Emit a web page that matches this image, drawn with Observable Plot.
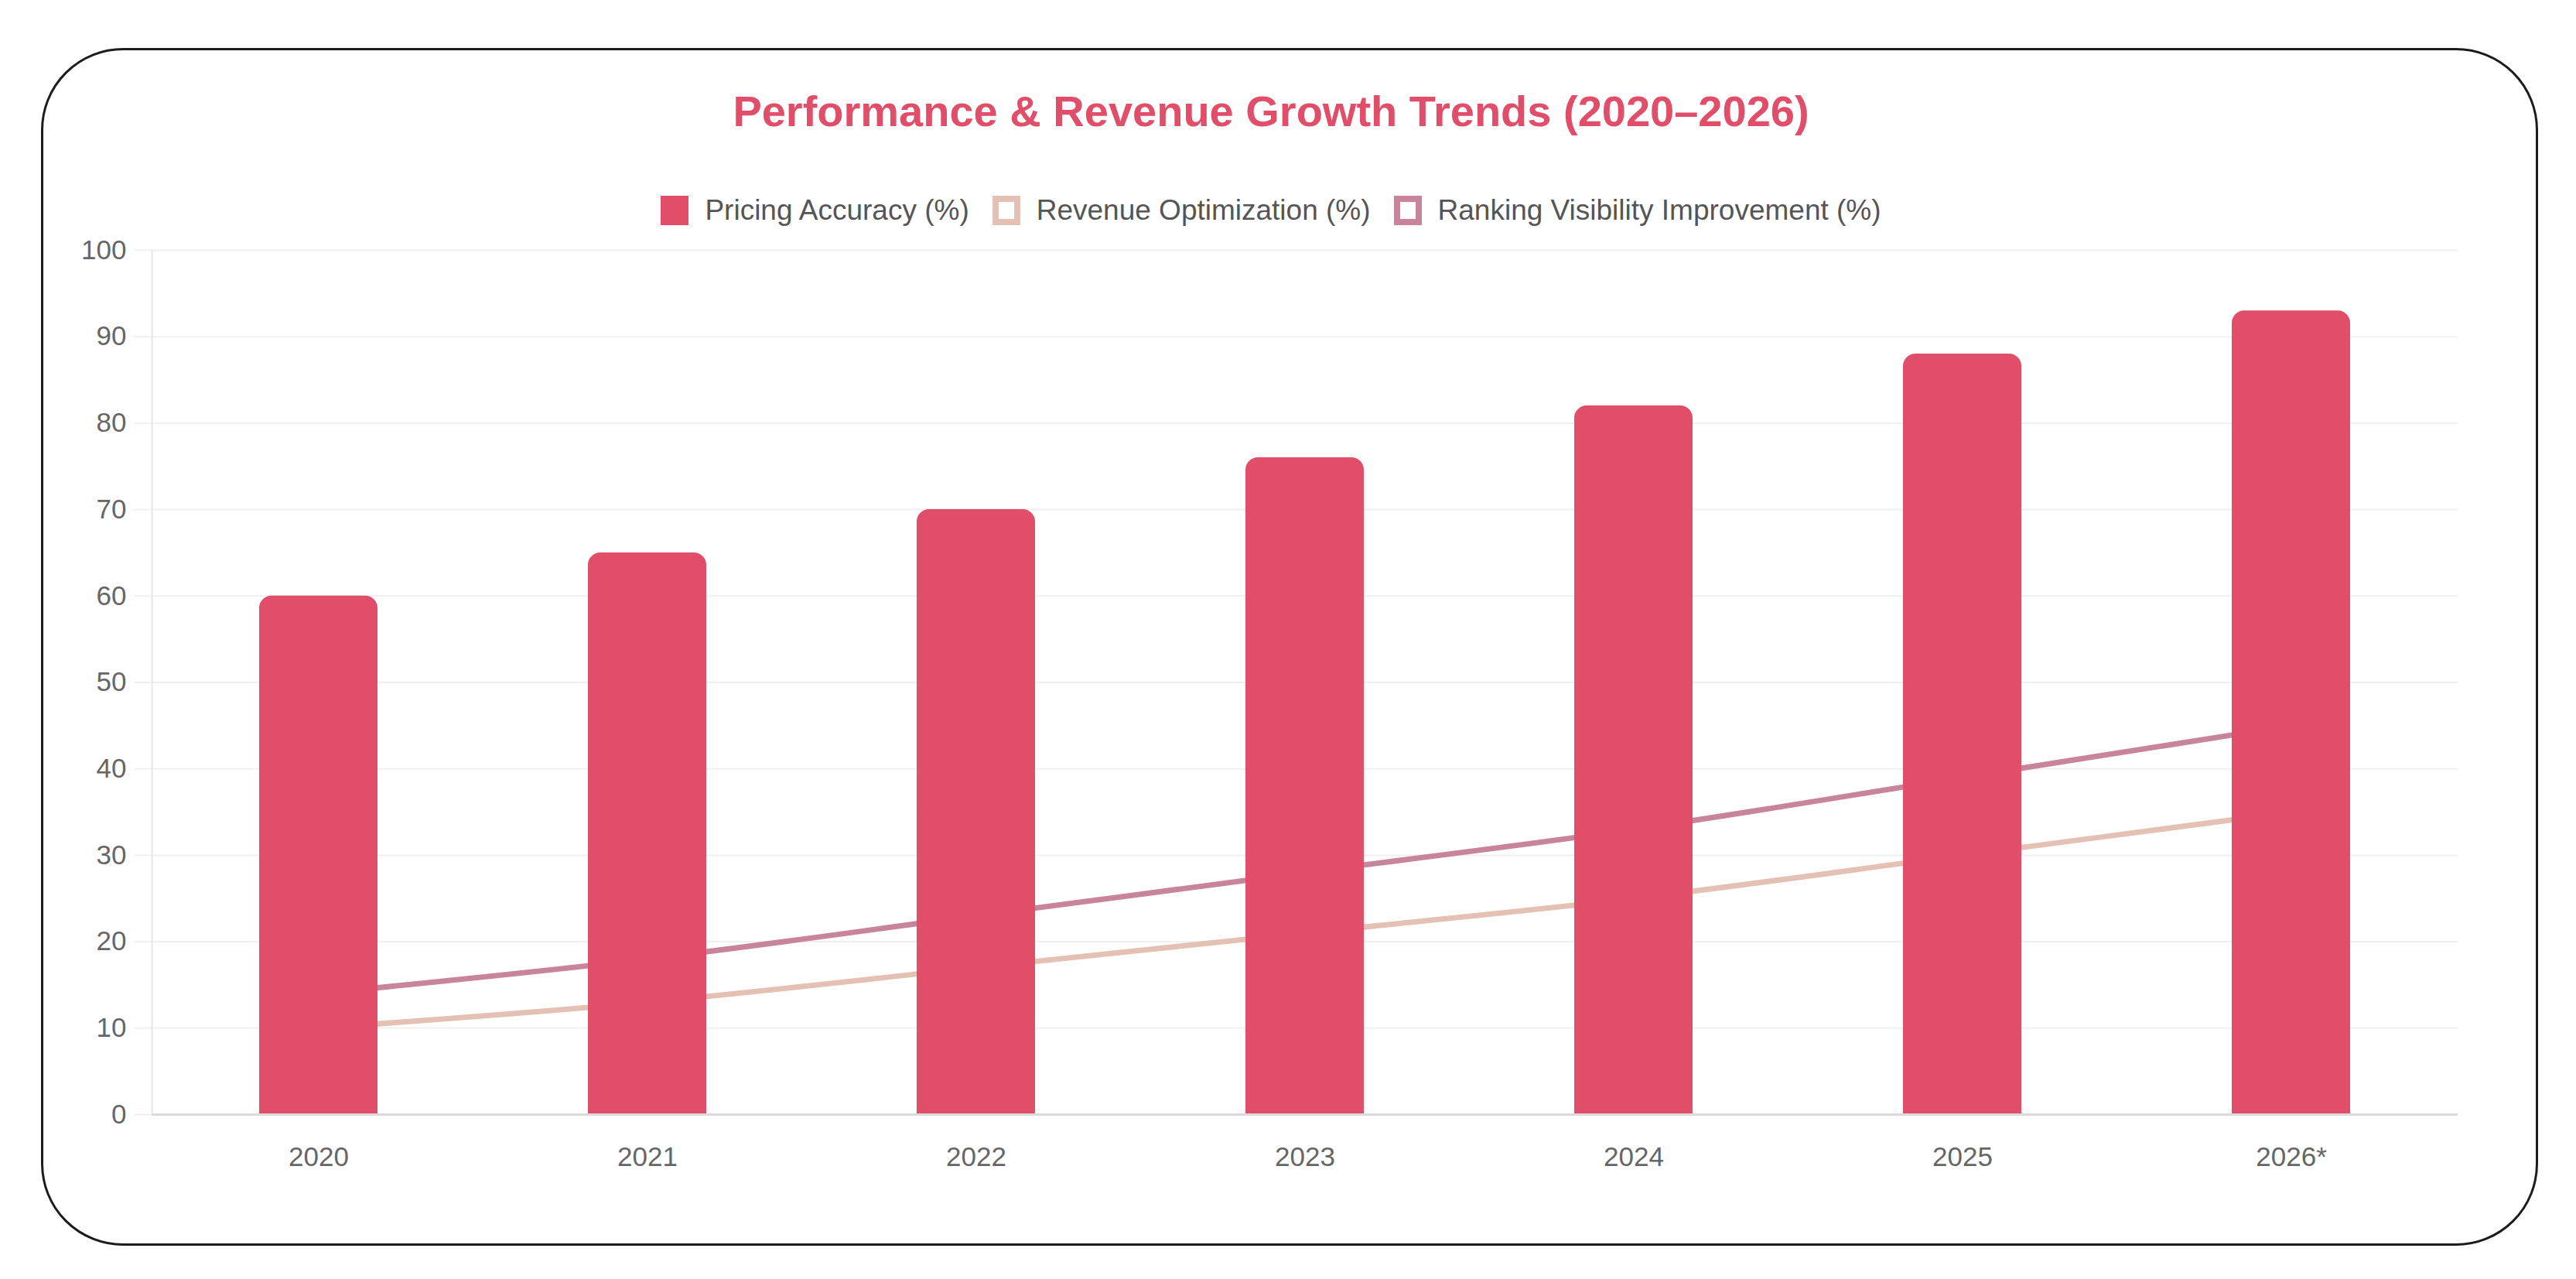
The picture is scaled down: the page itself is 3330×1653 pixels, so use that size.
<!DOCTYPE html>
<html>
<head>
<meta charset="utf-8">
<script src="https://cdn.jsdelivr.net/npm/d3@7"></script>
<script src="https://cdn.jsdelivr.net/npm/@observablehq/plot@0.6"></script>
<style>
  html, body { margin: 0; padding: 0; background: #fff; }
  body { width: 3330px; height: 1653px; position: relative; overflow: hidden;
         font-family: "Liberation Sans", Arial, Helvetica, sans-serif; }
  #card { position: absolute; left: 53px; top: 62px; width: 3228px; height: 1548px;
          box-sizing: border-box; border: 3px solid #1c1c1c; border-radius: 106px; }
  #title { position: absolute; left: 0; width: 3286px; top: 111px; line-height: 66px;
           text-align: center; font-size: 56px; font-weight: bold; color: #E04E69; }
  #legend { position: absolute; left: 0; width: 3286px; top: 250px; height: 44px;
            display: flex; justify-content: center; align-items: center; gap: 30px;
            font-size: 37px; color: #555; }
  .item { display: flex; align-items: center; }
  .sw { width: 36px; height: 38px; box-sizing: border-box; margin-right: 21px; }
  #chart { position: absolute; left: 0; top: 300px; }
</style>
</head>
<body>
<div id="card"></div>
<div id="title">Performance &amp; Revenue Growth Trends (2020–2026)</div>
<div id="legend"></div>
<div id="chart"></div>
<script>
const years = ["2020", "2021", "2022", "2023", "2024", "2025", "2026*"];
const pricingAccuracy = [60, 65, 70, 76, 82, 88, 93];
const revenueOptimization = [10, 13, 17, 21, 25, 30, 35];
const rankingVisibility = [14, 18, 23, 28, 33, 39, 45];
const yTicks = [0, 10, 20, 30, 40, 50, 60, 70, 80, 90, 100];
const seriesNames = ["Pricing Accuracy (%)", "Revenue Optimization (%)", "Ranking Visibility Improvement (%)"];
const seriesColors = ["#E04E69", "#E4C1B4", "#C8849B"];

const data = years.map((year, i) => ({
  year,
  pricing: pricingAccuracy[i],
  revenue: revenueOptimization[i],
  ranking: rankingVisibility[i]
}));

// Legend
const legend = document.getElementById("legend");
seriesNames.forEach((name, i) => {
  const item = document.createElement("div");
  item.className = "item";
  const sw = document.createElement("div");
  sw.className = "sw";
  if (i === 0) {
    sw.style.background = seriesColors[i];
  } else {
    sw.style.background = "#fff";
    sw.style.border = `8px solid ${seriesColors[i]}`;
  }
  const label = document.createElement("span");
  label.textContent = name;
  item.appendChild(sw);
  item.appendChild(label);
  legend.appendChild(item);
});

const chart = Plot.plot({
  width: 3330,
  height: 1240,
  marginLeft: 196,
  marginRight: 153,
  marginTop: 23,
  marginBottom: 100,
  style: { fontFamily: "'Liberation Sans', Arial, Helvetica, sans-serif", fontSize: "35px", color: "#666", background: "transparent", overflow: "visible" },
  x: { type: "band", domain: years, paddingInner: 0.64, paddingOuter: 0.32, label: null },
  y: { domain: [0, 100], label: null },
  marks: [
    Plot.ruleY(yTicks, { stroke: "#f0f0f0", strokeWidth: 2 }),
    Plot.axisY({ ticks: yTicks, tickSize: 22, tickPadding: 11, stroke: "#f0f0f0", strokeWidth: 2, fill: "#666", label: null }),
    Plot.frame({ anchor: "left", stroke: "#e6e6e6", strokeWidth: 2 }),
    Plot.lineY(data, { x: "year", y: "revenue", stroke: seriesColors[1], strokeWidth: 7, curve: "catmull-rom" }),
    Plot.lineY(data, { x: "year", y: "ranking", stroke: seriesColors[2], strokeWidth: 7, curve: "catmull-rom" }),
    Plot.barY(data, { x: "year", y: "pricing", fill: seriesColors[0], rx: 16 }),
    Plot.barY(data, { x: "year", y1: 0, y2: d => d.pricing / 2, fill: seriesColors[0] }),
    Plot.ruleY([0], { stroke: "#dcdcdc", strokeWidth: 3 }),
    Plot.axisX({ tickSize: 0, tickPadding: 42, fill: "#666", label: null })
  ]
});
document.getElementById("chart").appendChild(chart);
</script>
</body>
</html>
